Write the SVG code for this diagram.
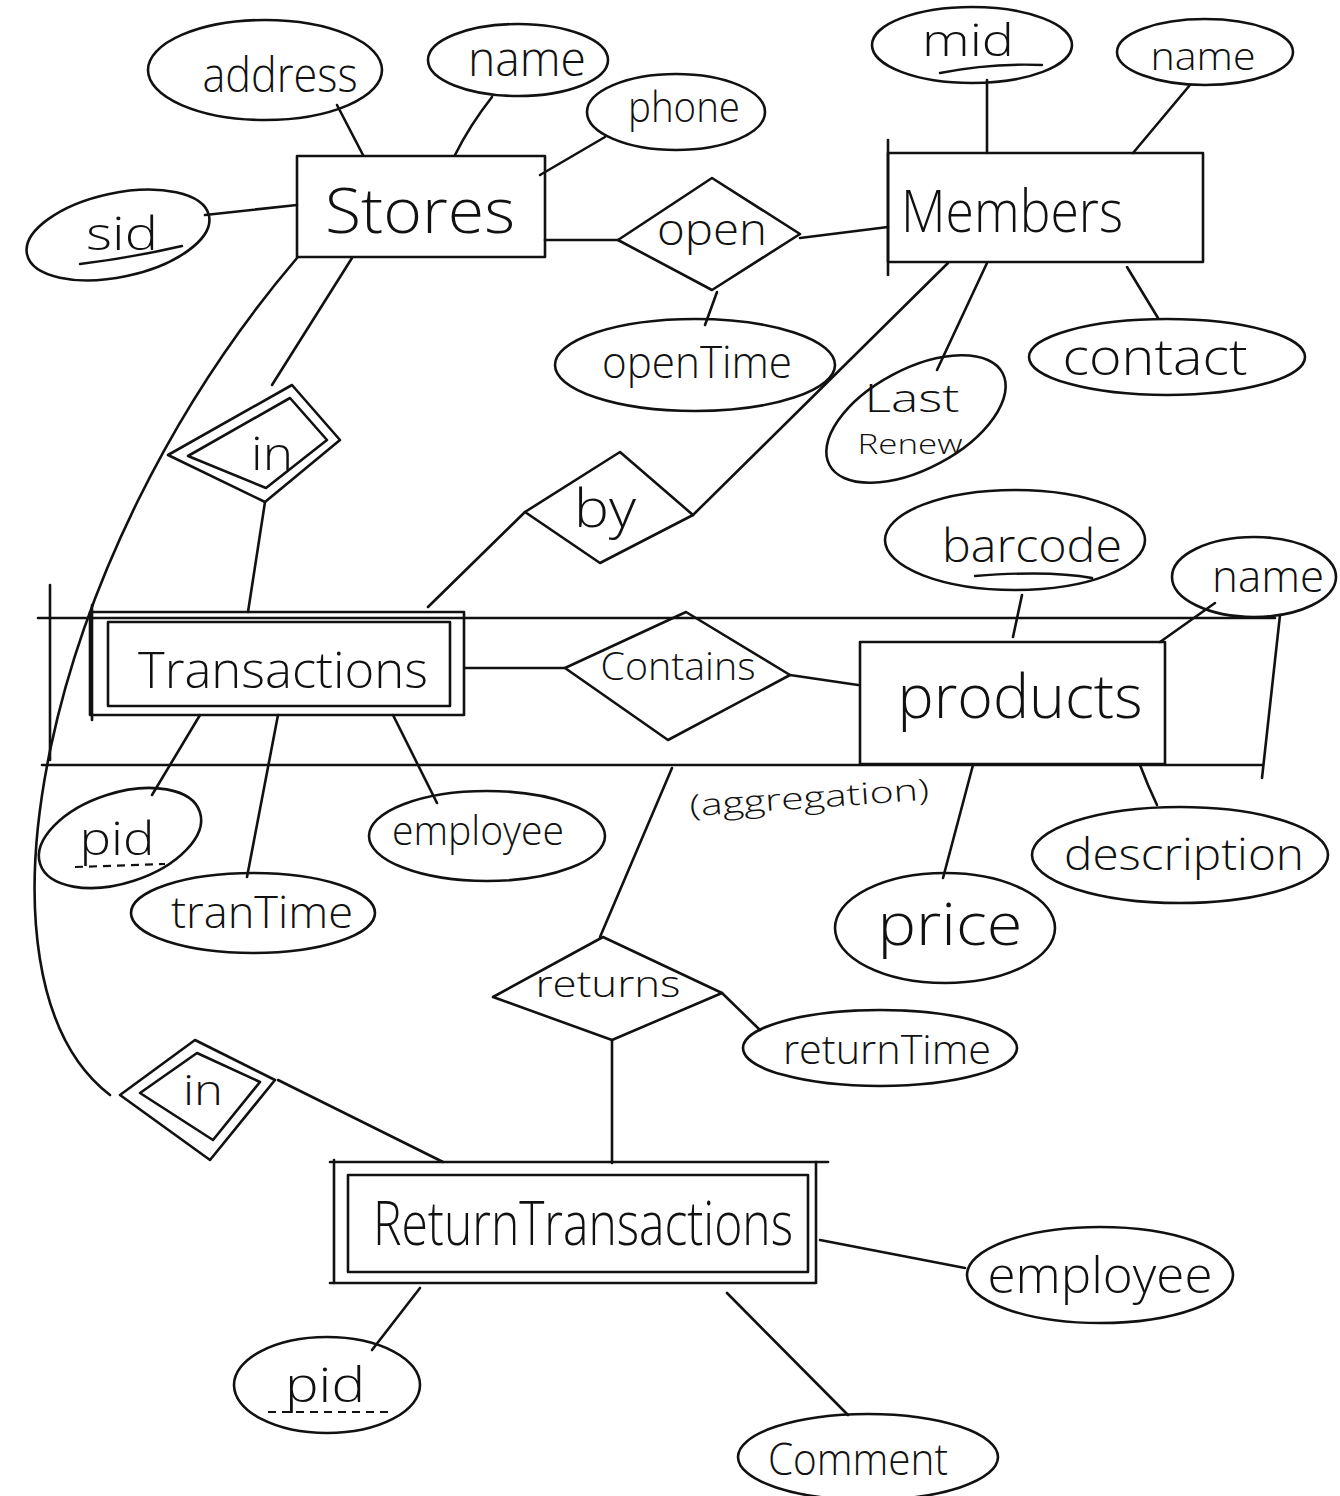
<svg xmlns="http://www.w3.org/2000/svg" width="1340" height="1496" viewBox="0 0 1340 1496">
  <style>
    .s { fill: none; stroke: #111; stroke-width: 2.6; stroke-linecap: round; stroke-linejoin: round; }
    .t { font-family: "Open Sans", "Liberation Sans", sans-serif; fill: #111; stroke: none; text-anchor: middle; font-weight: 300; }
    .u { fill: none; stroke: #111; stroke-width: 2.4; stroke-linecap: round; }
    .d { fill: none; stroke: #111; stroke-width: 2.2; stroke-dasharray: 8 6; }
  </style>
  <rect width="1340" height="1496" fill="#fff"/>

  <!-- connectors -->
  <g id="connectors" class="s">
    <line x1="337" y1="105" x2="363" y2="155"/>
    <path d="M492,97 Q470,125 455,155"/>
    <line x1="605" y1="137" x2="540" y2="175"/>
    <line x1="205" y1="215" x2="297" y2="205"/>
    <line x1="545" y1="240" x2="618" y2="240"/>
    <line x1="800" y1="238" x2="888" y2="227"/>
    <line x1="717" y1="292" x2="705" y2="325"/>
    <line x1="987" y1="80" x2="987" y2="153"/>
    <line x1="1190" y1="85" x2="1133" y2="153"/>
    <line x1="1127" y1="267" x2="1158" y2="318"/>
    <line x1="987" y1="263" x2="937" y2="370"/>
    <line x1="948" y1="263" x2="693" y2="515"/>
    <line x1="525" y1="512" x2="428" y2="607"/>
    <line x1="352" y1="258" x2="272" y2="385"/>
    <line x1="265" y1="502" x2="248" y2="612"/>
    <path d="M297,258 C40,560 -40,980 110,1095"/>
    <line x1="465" y1="668" x2="565" y2="668"/>
    <line x1="790" y1="675" x2="858" y2="685"/>
    <line x1="1022" y1="595" x2="1013" y2="637"/>
    <line x1="1215" y1="603" x2="1160" y2="642"/>
    <path d="M1140,765 L1148,785 L1157,805"/>
    <line x1="973" y1="765" x2="943" y2="878"/>
    <line x1="200" y1="715" x2="152" y2="795"/>
    <line x1="278" y1="715" x2="247" y2="877"/>
    <line x1="393" y1="715" x2="437" y2="803"/>
    <line x1="672" y1="768" x2="600" y2="937"/>
    <line x1="722" y1="993" x2="760" y2="1030"/>
    <line x1="612" y1="1040" x2="612" y2="1163"/>
    <line x1="278" y1="1080" x2="443" y2="1162"/>
    <line x1="820" y1="1240" x2="965" y2="1268"/>
    <line x1="420" y1="1288" x2="372" y2="1350"/>
    <line x1="727" y1="1293" x2="848" y2="1415"/>
  </g>

  <!-- aggregation frame around Transactions / Contains / products -->
  <g id="aggregation">
    <g class="s">
      <line x1="38" y1="618" x2="1275" y2="618"/>
      <line x1="42" y1="765" x2="1262" y2="765"/>
      <line x1="50" y1="585" x2="50" y2="760"/>
      <line x1="1280" y1="615" x2="1262" y2="778"/>
    </g>
    <text class="t" x="810" y="808" font-size="30" transform="rotate(-4 810 808)" textLength="240" lengthAdjust="spacingAndGlyphs">(aggregation)</text>
  </g>

  <!-- Stores -->
  <g id="stores">
    <rect class="s" x="297" y="156" width="248" height="101"/>
    <text class="t" x="420" y="233" font-size="62" textLength="190" lengthAdjust="spacingAndGlyphs">Stores</text>
  </g>
  <g id="stores-address">
    <ellipse class="s" cx="265" cy="70" rx="117" ry="50"/>
    <text class="t" x="280" y="92" font-size="48" textLength="155" lengthAdjust="spacingAndGlyphs">address</text>
  </g>
  <g id="stores-name">
    <ellipse class="s" cx="518" cy="60" rx="90" ry="36"/>
    <text class="t" x="527" y="76" font-size="48" textLength="118" lengthAdjust="spacingAndGlyphs">name</text>
  </g>
  <g id="stores-phone">
    <ellipse class="s" cx="676" cy="112" rx="89" ry="38"/>
    <text class="t" x="684" y="122" font-size="42" textLength="112" lengthAdjust="spacingAndGlyphs">phone</text>
  </g>
  <g id="stores-sid">
    <ellipse class="s" cx="118" cy="235" rx="93" ry="42" transform="rotate(-12 118 235)"/>
    <text class="t" x="122" y="250" font-size="46" textLength="72" lengthAdjust="spacingAndGlyphs">sid</text>
    <path class="u" d="M80,264 Q130,258 182,246"/>
  </g>

  <!-- open -->
  <g id="open">
    <polygon class="s" points="618,240 712,178 800,234 712,290"/>
    <text class="t" x="712" y="245" font-size="44" textLength="110" lengthAdjust="spacingAndGlyphs">open</text>
  </g>
  <g id="open-opentime">
    <ellipse class="s" cx="695" cy="365" rx="140" ry="46"/>
    <text class="t" x="697" y="378" font-size="44" textLength="190" lengthAdjust="spacingAndGlyphs">openTime</text>
  </g>

  <!-- Members -->
  <g id="members">
    <rect class="s" x="888" y="153" width="315" height="109"/>
    <line class="s" x1="888" y1="140" x2="888" y2="275"/>
    <text class="t" x="1012" y="232" font-size="58" textLength="222" lengthAdjust="spacingAndGlyphs">Members</text>
  </g>
  <g id="members-mid">
    <ellipse class="s" cx="972" cy="45" rx="100" ry="38"/>
    <text class="t" x="968" y="56" font-size="44" textLength="92" lengthAdjust="spacingAndGlyphs">mid</text>
    <path class="u" d="M940,73 Q990,63 1042,65"/>
  </g>
  <g id="members-name">
    <ellipse class="s" cx="1205" cy="52" rx="88" ry="33"/>
    <text class="t" x="1203" y="70" font-size="38" textLength="105" lengthAdjust="spacingAndGlyphs">name</text>
  </g>
  <g id="members-contact">
    <ellipse class="s" cx="1167" cy="357" rx="138" ry="38"/>
    <text class="t" x="1155" y="375" font-size="50" textLength="185" lengthAdjust="spacingAndGlyphs">contact</text>
  </g>
  <g id="members-lastrenew">
    <ellipse class="s" cx="916" cy="419" rx="98" ry="50" transform="rotate(-28 916 419)"/>
    <text class="t" x="912" y="412" font-size="38" textLength="95" lengthAdjust="spacingAndGlyphs">Last</text>
    <text class="t" x="910" y="454" font-size="28" textLength="105" lengthAdjust="spacingAndGlyphs">Renew</text>
  </g>

  <!-- by -->
  <g id="by">
    <polygon class="s" points="525,512 620,452 693,515 600,563"/>
    <text class="t" x="605" y="527" font-size="54" textLength="62" lengthAdjust="spacingAndGlyphs">by</text>
  </g>

  <!-- in (Transactions - Stores), identifying -->
  <g id="in-upper">
    <polygon class="s" points="168,455 292,385 340,440 265,502"/>
    <polygon class="s" points="188,456 290,398 327,440 266,488"/>
    <text class="t" x="272" y="470" font-size="46" textLength="42" lengthAdjust="spacingAndGlyphs">in</text>
  </g>

  <!-- Transactions, weak entity -->
  <g id="transactions">
    <rect class="s" x="90" y="612" width="374" height="103"/>
    <rect class="s" x="108" y="622" width="342" height="84"/>
    <line class="s" x1="92" y1="720" x2="92" y2="605"/>
    <text class="t" x="283" y="688" font-size="50" textLength="290" lengthAdjust="spacingAndGlyphs">Transactions</text>
  </g>
  <g id="transactions-pid">
    <ellipse class="s" cx="120" cy="838" rx="84" ry="45" transform="rotate(-18 120 838)"/>
    <text class="t" x="117" y="855" font-size="46" textLength="75" lengthAdjust="spacingAndGlyphs">pid</text>
    <line class="d" x1="75" y1="867" x2="165" y2="864"/>
  </g>
  <g id="transactions-trantime">
    <ellipse class="s" cx="253" cy="913" rx="122" ry="40"/>
    <text class="t" x="262" y="928" font-size="44" textLength="182" lengthAdjust="spacingAndGlyphs">tranTime</text>
  </g>
  <g id="transactions-employee">
    <ellipse class="s" cx="487" cy="836" rx="118" ry="45"/>
    <text class="t" x="478" y="845" font-size="40" textLength="172" lengthAdjust="spacingAndGlyphs">employee</text>
  </g>

  <!-- Contains -->
  <g id="contains">
    <polygon class="s" points="565,668 686,612 790,675 668,740"/>
    <text class="t" x="678" y="680" font-size="38" textLength="155" lengthAdjust="spacingAndGlyphs">Contains</text>
  </g>

  <!-- products -->
  <g id="products">
    <rect class="s" x="860" y="642" width="305" height="122"/>
    <text class="t" x="1020" y="718" font-size="60" textLength="245" lengthAdjust="spacingAndGlyphs">products</text>
  </g>
  <g id="products-barcode">
    <ellipse class="s" cx="1015" cy="540" rx="130" ry="50"/>
    <text class="t" x="1032" y="562" font-size="46" textLength="180" lengthAdjust="spacingAndGlyphs">barcode</text>
    <path class="u" d="M975,576 Q1050,570 1092,578"/>
  </g>
  <g id="products-name">
    <ellipse class="s" cx="1254" cy="577" rx="82" ry="40"/>
    <text class="t" x="1268" y="592" font-size="44" textLength="112" lengthAdjust="spacingAndGlyphs">name</text>
  </g>
  <g id="products-description">
    <ellipse class="s" cx="1180" cy="855" rx="148" ry="48"/>
    <text class="t" x="1184" y="870" font-size="44" textLength="240" lengthAdjust="spacingAndGlyphs">description</text>
  </g>
  <g id="products-price">
    <ellipse class="s" cx="945" cy="928" rx="110" ry="55"/>
    <text class="t" x="950" y="945" font-size="58" textLength="145" lengthAdjust="spacingAndGlyphs">price</text>
  </g>

  <!-- returns -->
  <g id="returns">
    <polygon class="s" points="493,997 603,937 722,993 612,1040"/>
    <text class="t" x="608" y="997" font-size="36" textLength="145" lengthAdjust="spacingAndGlyphs">returns</text>
  </g>
  <g id="returns-returntime">
    <ellipse class="s" cx="880" cy="1048" rx="137" ry="38"/>
    <text class="t" x="887" y="1064" font-size="40" textLength="208" lengthAdjust="spacingAndGlyphs">returnTime</text>
  </g>

  <!-- in (ReturnTransactions - Stores), identifying -->
  <g id="in-lower">
    <polygon class="s" points="120,1095 195,1040 275,1080 210,1160"/>
    <polygon class="s" points="140,1093 197,1053 260,1082 213,1140"/>
    <text class="t" x="203" y="1105" font-size="42" textLength="40" lengthAdjust="spacingAndGlyphs">in</text>
  </g>

  <!-- ReturnTransactions, weak entity -->
  <g id="return-transactions">
    <line class="s" x1="330" y1="1162" x2="828" y2="1162"/>
    <line class="s" x1="330" y1="1283" x2="815" y2="1283"/>
    <line class="s" x1="334" y1="1160" x2="334" y2="1283"/>
    <line class="s" x1="816" y1="1162" x2="816" y2="1283"/>
    <rect class="s" x="348" y="1175" width="460" height="97"/>
    <text class="t" x="583" y="1245" font-size="60" textLength="420" lengthAdjust="spacingAndGlyphs">ReturnTransactions</text>
  </g>
  <g id="return-employee">
    <ellipse class="s" cx="1100" cy="1275" rx="133" ry="48"/>
    <text class="t" x="1100" y="1293" font-size="50" textLength="225" lengthAdjust="spacingAndGlyphs">employee</text>
  </g>
  <g id="return-pid">
    <ellipse class="s" cx="327" cy="1385" rx="93" ry="48"/>
    <text class="t" x="325" y="1402" font-size="48" textLength="80" lengthAdjust="spacingAndGlyphs">pid</text>
    <line class="d" x1="268" y1="1412" x2="392" y2="1412"/>
  </g>
  <g id="return-comment">
    <ellipse class="s" cx="868" cy="1457" rx="130" ry="43"/>
    <text class="t" x="858" y="1475" font-size="44" textLength="180" lengthAdjust="spacingAndGlyphs">Comment</text>
  </g>
</svg>
